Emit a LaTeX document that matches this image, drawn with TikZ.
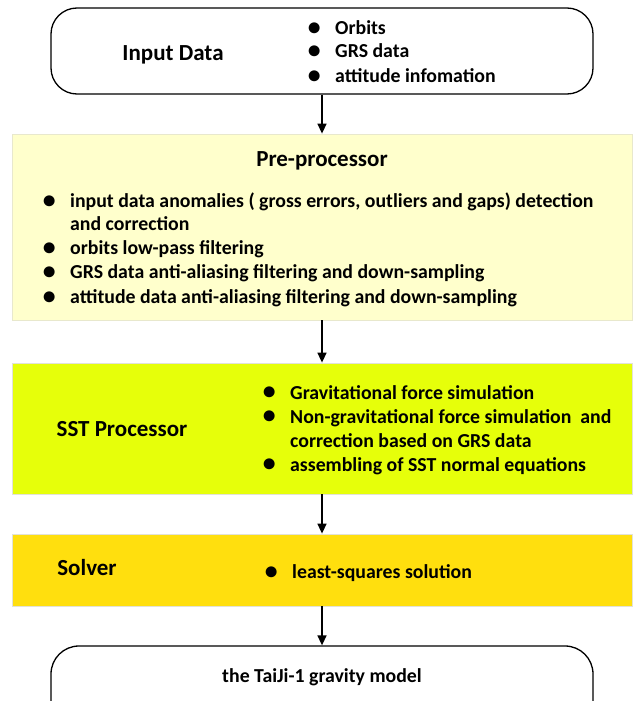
\documentclass[tikz,border=0pt]{standalone}
\usepackage{fontspec}
\setmainfont{Carlito}
\usetikzlibrary{arrows.meta}
\definecolor{preyellow}{RGB}{255,255,204}
\definecolor{preborder}{RGB}{232,232,205}
\definecolor{sstgreen}{RGB}{230,255,10}
\definecolor{solvergold}{RGB}{255,223,14}
\definecolor{boxborder}{RGB}{226,226,215}
\newcommand{\bu}{\llap{\makebox[42pt][c]{\smash{\raisebox{-0.6pt}{\scalebox{1.3}{\textbullet}}}}}}
\begin{document}
\begin{tikzpicture}[x=1pt,y=-1pt,
  txt/.style={inner sep=0pt, anchor=base west, font=\bfseries\fontsize{19.8}{24}\selectfont},
  ctxt/.style={inner sep=0pt, anchor=base, font=\bfseries\fontsize{23}{28}\selectfont},
  roundbox/.style={draw=black, line width=1.3pt, rounded corners=26pt, minimum width=542pt, inner sep=0pt},
  flatbox/.style={draw=boxborder, line width=0.8pt, minimum width=620pt, inner sep=0pt},
  arr/.style={-{Triangle[width=9pt,length=10pt]}, line width=1.5pt, black}
]
\useasboundingbox (0,0) rectangle (633,701);
% boxes
\node[roundbox, minimum height=86pt] (in) at (322,51) {};
\node[flatbox, draw=preborder, fill=preyellow, minimum height=186pt] (pre) at (322,227) {};
\node[flatbox, fill=sstgreen, minimum height=131pt] (sst) at (322,428.5) {};
\node[flatbox, fill=solvergold, minimum height=72pt] (sol) at (322,570) {};
\node[roundbox, rounded corners=28pt, minimum height=84pt] (out) at (322,688) {};
% input data
\node[ctxt] (inT) at (173,60) {Input Data};
\node[txt] (in1) at (335,34.5) {\bu Orbits};
\node[txt] (in2) at (335,57.5) {\bu GRS data};
\node[txt] (in3) at (335,82.5) {\bu attitude infomation};
% pre-processor
\node[ctxt] (preT) at (322,166.5) {Pre-processor};
\node[txt] (pre1) at (70,207.5) {\bu input data anomalies ( gross errors, outliers and gaps) detection};
\node[txt] (pre1b) at (70,230.5) {and correction};
\node[txt] (pre2) at (70,254.5) {\bu orbits low-pass filtering};
\node[txt] (pre3) at (70,278.5) {\bu GRS data anti-aliasing filtering and down-sampling};
\node[txt] (pre4) at (70,303.5) {\bu attitude data anti-aliasing filtering and down-sampling};
% SST
\node[ctxt] (sstT) at (122,436) {SST Processor};
\node[txt] (sst1) at (290,399) {\bu Gravitational force simulation};
\node[txt] (sst2) at (290,423) {\bu Non-gravitational force simulation\ \ and};
\node[txt] (sst2b) at (290,447) {correction based on GRS data};
\node[txt] (sst3) at (290,471) {\bu assembling of SST normal equations};
% solver
\node[ctxt] (solT) at (87,575) {Solver};
\node[txt] (sol1) at (292,578.5) {\bu least-squares solution};
% output
\node[ctxt, font=\bfseries\fontsize{19.8}{24}\selectfont] (outT) at (322,682.5) {the TaiJi-1 gravity model};
% arrows
\draw[arr] (in.south) -- (pre.north);
\draw[arr] (pre.south) -- (sst.north);
\draw[arr] (sst.south) -- (sol.north);
\draw[arr] (sol.south) -- (out.north);
\end{tikzpicture}
\end{document}
